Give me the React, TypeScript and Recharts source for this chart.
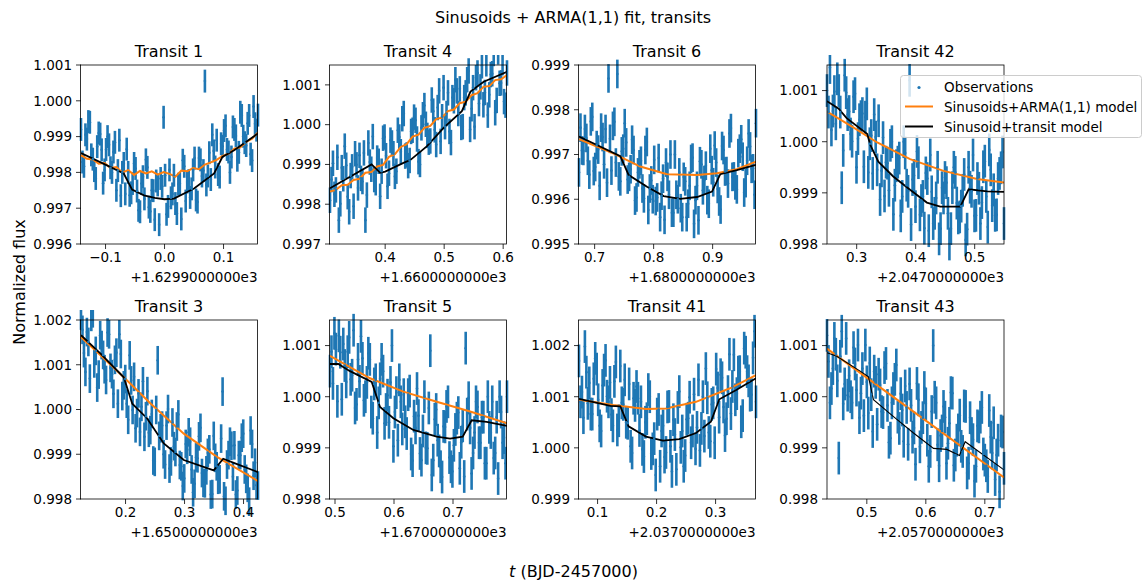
import React from 'react';
import { ComposedChart, Scatter, Line, XAxis, YAxis, ErrorBar } from 'recharts';

// time since first sample of each transit window (days); two interleaved cadence grids
const PHASE = [0, 0.005, 0.01, 0.015, 0.02, 0.025, 0.03, 0.035, 0.04, 0.045,
  0.05, 0.055, 0.06, 0.065, 0.07, 0.075, 0.08, 0.085, 0.09, 0.095,
  0.1, 0.105, 0.11, 0.115, 0.12, 0.125, 0.13, 0.135, 0.14, 0.145,
  0.15, 0.155, 0.16, 0.165, 0.17, 0.175, 0.18, 0.185, 0.19, 0.195,
  0.2, 0.205, 0.21, 0.215, 0.22, 0.225, 0.23, 0.235, 0.24, 0.245,
  0.25, 0.255, 0.26, 0.265, 0.27, 0.275, 0.28, 0.285, 0.29, 0.295, 0.3];
const PHASE_B = [0.0025, 0.0075, 0.0125, 0.0175, 0.0225, 0.0275, 0.0325, 0.0375, 0.0425, 0.0475,
  0.0525, 0.0575, 0.0625, 0.0675, 0.0725, 0.0775, 0.0825, 0.0875, 0.0925, 0.0975,
  0.1025, 0.1075, 0.1125, 0.1175, 0.1225, 0.1275, 0.1325, 0.1375, 0.1425, 0.1475,
  0.1525, 0.1575, 0.1625, 0.1675, 0.1725, 0.1775, 0.1825, 0.1875, 0.1925, 0.1975,
  0.2025, 0.2075, 0.2125, 0.2175, 0.2225, 0.2275, 0.2325, 0.2375, 0.2425, 0.2475,
  0.2525, 0.2575, 0.2625, 0.2675, 0.2725, 0.2775, 0.2825, 0.2875, 0.2925, 0.2975];
const OBS_ERR = 0.00032;

const obsT1 = [0.99920, 0.99817, 0.99893, 0.99940, 0.99837, 0.99783, 0.99910, 0.99863, 0.99807, 0.99900,
  0.99813, 0.99857, 0.99750, 0.99890, 0.99800, 0.99740, 0.99800, 0.99743, 0.99825, 0.99748,
  0.99690, 0.99788, 0.99835, 0.99703, 0.99750, 0.99668, 0.99765, 0.99783, 0.99954, 0.99683,
  0.99807, 0.99740, 0.99713, 0.99767, 0.99670, 0.99817, 0.99773, 0.99730, 0.99807, 0.99723,
  0.99840, 0.99790, 1.00055, 0.99790, 0.99780, 0.99860, 0.99890, 0.99787, 0.99873, 0.99930,
  0.99857, 0.99843, 0.99920, 0.99834, 0.99968, 0.99901, 0.99875, 0.99959, 0.99833, 0.99936, 0.99960];
const obsT1b = [0.99829, 0.99905, 0.99942, 0.99849, 0.99805, 0.99872, 0.99907, 0.99770, 0.99864, 0.99877,
  0.99800, 0.99884, 0.99805, 0.99735, 0.99825, 0.99865, 0.99736, 0.99769, 0.99811, 0.99694,
  0.99769, 0.99726, 0.99814, 0.99691, 0.99749, 0.99776, 0.99654, 0.99761, 0.99792, 0.99705,
  0.99729, 0.99792, 0.99685, 0.99769, 0.99834, 0.99720, 0.99777, 0.99754, 0.99840, 0.99717,
  0.99835, 0.99805, 0.99765, 0.99855, 0.99905, 0.99815, 0.99794, 0.99880, 0.99917, 0.99864,
  0.99800, 0.99927, 0.99902, 0.99856, 0.99959, 0.99883, 0.99937, 0.99851, 0.99984, 0.99918];
const obsT4 = [0.99810, 0.99903, 0.99836, 0.99760, 0.99892, 0.99946, 0.99819, 0.99872, 0.99795, 0.99899,
  0.99923, 0.99857, 0.99760, 0.99954, 0.99888, 0.99862, 0.99916, 0.99820, 0.99966, 0.99922,
  0.99878, 0.99954, 0.99870, 0.99986, 0.99932, 1.00028, 0.99924, 0.99910, 0.99986, 1.00011,
  0.99907, 0.99992, 1.00048, 0.99973, 0.99959, 1.00034, 0.99950, 1.00085, 1.00020, 0.99995,
  1.00080, 0.99955, 1.00060, 1.00085, 1.00090, 0.99995, 1.00080, 1.00135, 1.00040, 0.99995,
  1.00130, 1.00095, 1.00050, 1.00153, 1.00075, 1.00128, 1.00030, 1.00183, 1.00105, 1.00058, 1.00130];
const obsT4b = [0.99862, 0.99825, 0.99918, 0.99801, 0.99864, 0.99898, 0.99781, 0.99894, 0.99927, 0.99841,
  0.99865, 0.99929, 0.99823, 0.99906, 0.99970, 0.99854, 0.99908, 0.99883, 0.99969, 0.99845,
  0.99961, 0.99927, 0.99883, 0.99969, 1.00015, 0.99921, 0.99897, 0.99983, 1.00019, 0.99964,
  0.99900, 1.00025, 1.00001, 0.99956, 1.00062, 0.99987, 1.00043, 0.99958, 1.00093, 1.00028,
  0.99983, 1.00068, 1.00113, 1.00028, 0.99993, 1.00068, 1.00113, 0.99988, 1.00093, 1.00118,
  1.00053, 1.00148, 1.00081, 1.00024, 1.00126, 1.00179, 1.00061, 1.00104, 1.00156, 1.00049];
const obsT6 = [0.99660, 0.99709, 0.99757, 0.99686, 0.99774, 0.99663, 0.99721, 0.99630, 0.99739, 0.99757,
  0.99870, 0.99664, 0.99773, 0.99880, 0.99640, 0.99713, 0.99727, 0.99650, 0.99733, 0.99597,
  0.99660, 0.99686, 0.99602, 0.99728, 0.99624, 0.99600, 0.99596, 0.99692, 0.99608, 0.99554,
  0.99650, 0.99700, 0.99570, 0.99610, 0.99660, 0.99560, 0.99640, 0.99590, 0.99690, 0.99545,
  0.99630, 0.99685, 0.99620, 0.99675, 0.99590, 0.99665, 0.99720, 0.99623, 0.99577, 0.99710,
  0.99663, 0.99747, 0.99650, 0.99631, 0.99703, 0.99734, 0.99615, 0.99686, 0.99718, 0.99669, 0.99770];
const obsT6b = [0.99760, 0.99708, 0.99737, 0.99655, 0.99784, 0.99672, 0.99711, 0.99760, 0.99678, 0.99637,
  0.99735, 0.99764, 0.99682, 0.99651, 0.99707, 0.99770, 0.99644, 0.99667, 0.99710, 0.99604,
  0.99678, 0.99624, 0.99710, 0.99576, 0.99642, 0.99688, 0.99604, 0.99560, 0.99646, 0.99682,
  0.99610, 0.99570, 0.99700, 0.99600, 0.99580, 0.99650, 0.99560, 0.99630, 0.99693, 0.99598,
  0.99553, 0.99678, 0.99643, 0.99598, 0.99713, 0.99638, 0.99682, 0.99595, 0.99719, 0.99662,
  0.99635, 0.99759, 0.99651, 0.99622, 0.99713, 0.99695, 0.99636, 0.99747, 0.99668, 0.99610];
const obsT42 = [1.00100, 1.00145, 1.00060, 1.00035, 1.00100, 0.99910, 1.00130, 1.00053, 1.00015, 1.00088,
  0.99950, 1.00043, 1.00055, 1.00048, 0.99940, 1.00012, 1.00053, 0.99945, 0.99887, 1.00008,
  0.99960, 0.99905, 1.00000, 0.99915, 0.99960, 0.99855, 1.00000, 0.99915, 1.00120, 0.99926,
  0.99873, 0.99959, 0.99885, 0.99831, 0.99928, 0.99974, 0.99840, 0.99890, 0.99810, 0.99910,
  0.99930, 0.99860, 0.99830, 0.99950, 0.99880, 0.99853, 0.99905, 0.99808, 0.99950, 0.99903,
  0.99855, 0.99928, 0.99840, 0.99951, 0.99893, 0.99984, 0.99875, 0.99856, 0.99928, 0.99949, 0.99840];
const obsT42b = [1.00058, 1.00023, 1.00098, 1.00123, 1.00058, 0.99983, 1.00096, 1.00059, 1.00001, 1.00094,
  1.00006, 1.00049, 0.99951, 1.00074, 0.99996, 0.99938, 1.00009, 1.00041, 0.99943, 0.99894,
  0.99958, 0.99993, 0.99858, 0.99953, 0.99968, 0.99893, 0.99978, 0.99903, 0.99838, 0.99934,
  0.99981, 0.99857, 0.99893, 0.99939, 0.99826, 0.99902, 0.99860, 0.99950, 0.99830, 0.99890,
  0.99920, 0.99800, 0.99910, 0.99940, 0.99851, 0.99874, 0.99936, 0.99829, 0.99911, 0.99974,
  0.99856, 0.99909, 0.99881, 0.99962, 0.99833, 0.99945, 0.99906, 0.99857, 0.99938, 0.99980];
const obsT3 = [1.00210, 1.00126, 1.00173, 1.00069, 1.00215, 1.00131, 1.00078, 1.00144, 1.00090, 1.00172,
  1.00093, 1.00035, 1.00127, 1.00168, 1.00030, 1.00068, 0.99977, 1.00065, 1.00073, 0.99992,
  0.99950, 1.00063, 0.99985, 0.99948, 0.99990, 0.99883, 1.00110, 0.99958, 0.99900, 0.99964,
  0.99868, 0.99971, 0.99905, 0.99989, 0.99873, 0.99846, 0.99910, 0.99928, 0.99815, 0.99893,
  0.99940, 0.99858, 0.99835, 0.99903, 0.99810, 0.99941, 0.99873, 0.99844, 1.00040, 0.99796,
  0.99898, 0.99919, 0.99920, 0.99819, 0.99898, 0.99946, 0.99845, 0.99794, 0.99923, 0.99881, 0.99830];
const obsT3b = [1.00178, 1.00084, 1.00151, 1.00207, 1.00103, 1.00049, 1.00166, 1.00122, 1.00066, 1.00168,
  1.00079, 1.00111, 1.00013, 1.00124, 1.00054, 1.00013, 1.00121, 0.99999, 0.99958, 1.00036,
  1.00006, 0.99939, 1.00041, 0.99954, 0.99886, 0.99999, 0.99941, 0.99964, 0.99877, 1.00001,
  0.99884, 0.99918, 0.99962, 0.99876, 0.99829, 0.99923, 0.99949, 0.99866, 0.99834, 0.99891,
  0.99959, 0.99836, 0.99864, 0.99911, 0.99811, 0.99892, 0.99843, 0.99935, 0.99806, 0.99877,
  0.99928, 0.99850, 0.99810, 0.99898, 0.99937, 0.99866, 0.99825, 0.99953, 0.99852, 0.99831];
const obsT5 = [1.00050, 1.00026, 1.00093, 1.00119, 0.99995, 1.00061, 1.00088, 1.00034, 1.00130, 0.99985,
  1.00030, 1.00075, 1.00000, 1.00085, 0.99970, 1.00025, 0.99930, 1.00035, 1.00050, 0.99975,
  0.99950, 1.00100, 0.99970, 0.99915, 0.99990, 1.00004, 0.99928, 1.00011, 0.99875, 0.99939,
  0.99963, 0.99876, 1.00000, 0.99899, 1.00090, 0.99876, 0.99975, 0.99894, 0.99843, 0.99941,
  0.99990, 0.99863, 0.99905, 0.99958, 0.99860, 0.99943, 1.00095, 0.99998, 0.99850, 0.99930,
  0.99980, 0.99910, 0.99960, 0.99870, 0.99940, 0.99990, 0.99890, 0.99840, 0.99970, 0.99920, 1.00000];
const obsT5b = [1.00088, 1.00124, 0.99991, 1.00087, 1.00103, 1.00029, 1.00116, 1.00042, 0.99978, 1.00073,
  1.00118, 0.99993, 1.00028, 1.00073, 0.99958, 1.00033, 0.99988, 1.00073, 0.99948, 1.00003,
  1.00028, 0.99903, 1.00008, 1.00033, 0.99937, 0.99951, 1.00004, 0.99888, 0.99962, 1.00016,
  0.99889, 0.99933, 0.99900, 0.99978, 0.99847, 0.99956, 0.99915, 0.99863, 0.99942, 0.99981,
  0.99881, 0.99854, 0.99936, 0.99969, 0.99911, 0.99844, 0.99966, 0.99939, 0.99890, 0.99990,
  0.99910, 0.99960, 0.99870, 1.00000, 0.99930, 0.99880, 0.99960, 1.00000, 0.99910, 0.99870];
const obsT41 = [1.00170, 1.00109, 1.00198, 1.00087, 1.00066, 1.00135, 1.00154, 1.00043, 1.00122, 1.00171,
  1.00090, 1.00065, 1.00130, 1.00035, 1.00160, 1.00085, 1.00050, 1.00125, 0.99990, 1.00083,
  1.00097, 1.00090, 0.99983, 1.00057, 1.00100, 0.99998, 0.99947, 1.00075, 1.00033, 0.99982,
  1.00080, 1.00003, 1.00055, 0.99958, 1.00110, 1.00033, 0.99985, 1.00058, 1.00010, 1.00105,
  1.00040, 0.99995, 1.00100, 1.00155, 1.00030, 1.00085, 1.00010, 1.00117, 1.00143, 1.00080,
  1.00057, 1.00183, 1.00120, 1.00094, 1.00148, 1.00051, 1.00195, 1.00149, 1.00103, 1.00176, 1.00090];
const obsT41b = [1.00090, 1.00059, 1.00148, 1.00127, 1.00066, 1.00175, 1.00094, 1.00033, 1.00152, 1.00101,
  1.00128, 1.00043, 1.00168, 1.00053, 1.00088, 1.00133, 1.00048, 1.00003, 1.00097, 1.00120,
  1.00034, 0.99997, 1.00050, 1.00114, 0.99989, 1.00018, 1.00066, 0.99964, 1.00043, 0.99991,
  1.00081, 0.99954, 1.00026, 1.00079, 1.00001, 0.99964, 1.00056, 1.00099, 1.00033, 0.99998,
  1.00133, 1.00038, 1.00023, 1.00098, 1.00013, 1.00088, 1.00154, 1.00060, 1.00137, 1.00024,
  1.00110, 1.00067, 1.00182, 1.00106, 1.00149, 1.00063, 1.00187, 1.00131, 1.00104, 1.00228];
const obsT43 = [1.00120, 0.99988, 1.00055, 1.00083, 0.99880, 1.00128, 1.00025, 1.00003, 1.00000, 1.00096,
  1.00013, 0.99959, 1.00055, 1.00101, 0.99968, 1.00004, 1.00050, 0.99946, 1.00023, 0.99969,
  1.00065, 0.99911, 0.99988, 1.00034, 0.99960, 1.00006, 0.99913, 0.99979, 1.00025, 0.99921,
  0.99868, 0.99994, 0.99940, 1.00018, 0.99915, 0.99893, 1.00100, 0.99988, 0.99865, 0.99933,
  0.99960, 0.99909, 1.00008, 0.99866, 0.99915, 0.99964, 0.99893, 0.99981, 0.99870, 0.99928,
  0.99835, 0.99943, 0.99960, 0.99888, 0.99865, 0.99973, 0.99890, 0.99838, 0.99915, 0.99933, 0.99860];
const obsT43b = [1.00069, 1.00016, 1.00114, 1.00031, 1.00079, 0.99986, 1.00114, 1.00041, 0.99988, 1.00064,
  1.00101, 1.00007, 0.99963, 1.00029, 1.00066, 0.99932, 1.00028, 1.00044, 0.99971, 1.00057,
  0.99983, 0.99919, 1.00016, 1.00062, 0.99938, 0.99974, 1.00021, 0.99907, 0.99983, 0.99939,
  1.00026, 0.99902, 0.99959, 0.99986, 0.99864, 0.99971, 0.99999, 0.99906, 0.99924, 0.99981,
  0.99870, 0.99948, 1.00007, 0.99886, 0.99935, 0.99903, 0.99982, 0.99851, 0.99959, 0.99916,
  0.99864, 0.99941, 0.99979, 0.99876, 0.99844, 0.99921, 0.99949, 0.99886, 0.99814, 0.99931];

// [phase, flux] for the two models
const armaT1: [number, number][] = [[0, 0.99848], [0.01, 0.99838], [0.02, 0.99836], [0.03, 0.99824], [0.04, 0.99826],
  [0.05, 0.99812], [0.06, 0.99815], [0.07, 0.998], [0.08, 0.99806], [0.09, 0.99793], [0.1, 0.99804],
  [0.11, 0.99797], [0.12, 0.99803], [0.13, 0.99794], [0.14, 0.99801], [0.15, 0.99796], [0.16, 0.99788],
  [0.17, 0.99805], [0.18, 0.99803], [0.19, 0.99812], [0.2, 0.99809], [0.21, 0.99822], [0.22, 0.99828],
  [0.23, 0.99835], [0.24, 0.99846], [0.25, 0.99852], [0.26, 0.99866], [0.27, 0.9987], [0.28, 0.99885],
  [0.29, 0.99894], [0.3, 0.99912]];
const transitT1: [number, number][] = [[0, 0.99854], [0.036, 0.99826], [0.0724, 0.99797], [0.0866, 0.99752],
  [0.1066, 0.99736], [0.125, 0.99729], [0.1416, 0.99725], [0.1576, 0.99727], [0.1916, 0.99755],
  [0.2256, 0.99797], [0.2396, 0.99843], [0.2596, 0.99862], [0.3, 0.99909]];
const armaT4: [number, number][] = [[0, 0.99832], [0.01, 0.99836], [0.02, 0.99848], [0.03, 0.99849], [0.04, 0.99861],
  [0.05, 0.99864], [0.06, 0.99879], [0.07, 0.99881], [0.08, 0.99895], [0.09, 0.99899], [0.1, 0.99919],
  [0.11, 0.99926], [0.12, 0.99944], [0.13, 0.99951], [0.14, 0.9997], [0.15, 0.99975], [0.16, 0.99992],
  [0.17, 0.99997], [0.18, 1.00014], [0.19, 1.00018], [0.2, 1.00034], [0.21, 1.00038], [0.22, 1.00054],
  [0.23, 1.00058], [0.24, 1.00074], [0.25, 1.00079], [0.26, 1.00095], [0.27, 1.00097], [0.28, 1.00112],
  [0.29, 1.00114], [0.3, 1.00125]];
const transitT4: [number, number][] = [[0, 0.9984], [0.0705, 0.999], [0.085, 0.99879], [0.0935, 0.99882],
  [0.1245, 0.99904], [0.136, 0.99911], [0.1645, 0.99946], [0.1925, 0.99992], [0.2235, 1.00034],
  [0.2381, 1.00083], [0.2605, 1.00108], [0.3, 1.00133]];
const armaT6: [number, number][] = [[0, 0.99734], [0.0589, 0.99702], [0.1039, 0.99673], [0.1491, 0.99656],
  [0.2001, 0.99654], [0.2339, 0.99658], [0.2675, 0.99667], [0.3, 0.99684]];
const transitT6: [number, number][] = [[0, 0.9974], [0.0701, 0.99696], [0.0842, 0.99654], [0.1153, 0.99628],
  [0.1435, 0.99607], [0.1715, 0.99601], [0.2001, 0.99605], [0.2255, 0.99617], [0.2395, 0.99656],
  [0.2675, 0.99665], [0.3, 0.99677]];
const armaT42: [number, number][] = [[0, 1.00059], [0.0446, 1.00028], [0.0843, 0.99999], [0.1408, 0.99966],
  [0.1975, 0.99943], [0.2543, 0.99927], [0.3, 0.9992]];
const transitT42: [number, number][] = [[0, 1.00079], [0.0193, 1.00065], [0.0333, 1.00046], [0.0683, 1.00015],
  [0.0729, 0.99995], [0.087, 0.99961], [0.1123, 0.99932], [0.1408, 0.99906], [0.1693, 0.99881],
  [0.1919, 0.99873], [0.2259, 0.99873], [0.2401, 0.99907], [0.2713, 0.99903], [0.3, 0.99902]];
const armaT3: [number, number][] = [[0, 1.00162], [0.0331, 1.00121], [0.0725, 1.00072], [0.1183, 1.00013],
  [0.1742, 0.99946], [0.2305, 0.99894], [0.3, 0.9984]];
const transitT3: [number, number][] = [[0, 1.00166], [0.0331, 1.00125], [0.0725, 1.00072], [0.0869, 1.00013],
  [0.1122, 0.9998], [0.1403, 0.99924], [0.1742, 0.99887], [0.225, 0.99864], [0.241, 0.9989],
  [0.2645, 0.99878], [0.3, 0.9986]];
const armaT5: [number, number][] = [[0, 1.0008], [0.0678, 1.00036], [0.1243, 1.0001], [0.1809, 0.9999],
  [0.2375, 0.99971], [0.3, 0.99948]];
const transitT5: [number, number][] = [[0, 1.00064], [0.0141, 1.00064], [0.0339, 1.0005], [0.0707, 1.00029],
  [0.0848, 0.9998], [0.1074, 0.99958], [0.1413, 0.99935], [0.1809, 0.99922], [0.2035, 0.99918],
  [0.2249, 0.99922], [0.2401, 0.99954], [0.2655, 0.99951], [0.3, 0.99943]];
const armaT41: [number, number][] = [[0, 1.00094], [0.058, 1.00084], [0.1135, 1.00076], [0.1473, 1.00077],
  [0.1983, 1.0009], [0.2549, 1.00116], [0.3, 1.00142]];
const transitT41: [number, number][] = [[0, 1.00096], [0.0532, 1.00082], [0.0701, 1.00081], [0.084, 1.00042],
  [0.1135, 1.00022], [0.1422, 1.00014], [0.17, 1.00017], [0.1983, 1.00029], [0.2235, 1.00051],
  [0.2378, 1.00095], [0.2665, 1.00113], [0.3, 1.00136]];
const armaT43: [number, number][] = [[0, 1.00094], [0.15, 0.99968], [0.3, 0.99842]];
const transitT43: [number, number][] = [[0, 1.00086], [0.0165, 1.00079], [0.0562, 1.0005], [0.0703, 1.00039],
  [0.0788, 0.99994], [0.1127, 0.99961], [0.1466, 0.99929], [0.1805, 0.99899], [0.2031, 0.99897],
  [0.2245, 0.99885], [0.2342, 0.99912], [0.3, 0.99857]];

const BLUE = '#1f77b4';
const ORANGE = '#ff7f0e';
const FONT = 'DejaVu Sans';
const PW = 177;
const PH = 179;

const panels = [
  { title: 'Transit 1', obs: obsT1, obsB: obsT1b, arma: armaT1, transit: transitT1, t0: -0.1416, offset: '+1.6299000000e3',
    xTicks: [-0.1, 0, 0.1], yTicks: [0.996, 0.997, 0.998, 0.999, 1.0, 1.001], yDomain: [0.996, 1.001], left: 80.5, top: 65 },
  { title: 'Transit 4', obs: obsT4, obsB: obsT4b, arma: armaT4, transit: transitT4, t0: 0.3065, offset: '+1.6600000000e3',
    xTicks: [0.4, 0.5, 0.6], yTicks: [0.997, 0.998, 0.999, 1.0, 1.001], yDomain: [0.997, 1.0015], left: 329.5, top: 65 },
  { title: 'Transit 6', obs: obsT6, obsB: obsT6b, arma: armaT6, transit: transitT6, t0: 0.6735, offset: '+1.6800000000e3',
    xTicks: [0.7, 0.8, 0.9], yTicks: [0.995, 0.996, 0.997, 0.998, 0.999], yDomain: [0.995, 0.999], left: 578.5, top: 65 },
  { title: 'Transit 42', obs: obsT42, obsB: obsT42b, arma: armaT42, transit: transitT42, t0: 0.2497, offset: '+2.0470000000e3',
    xTicks: [0.3, 0.4, 0.5], yTicks: [0.998, 0.999, 1.0, 1.001], yDomain: [0.998, 1.0015], left: 827, top: 65 },
  { title: 'Transit 3', obs: obsT3, obsB: obsT3b, arma: armaT3, transit: transitT3, t0: 0.1245, offset: '+1.6500000000e3',
    xTicks: [0.2, 0.3, 0.4], yTicks: [0.998, 0.999, 1.0, 1.001, 1.002], yDomain: [0.998, 1.002], left: 80.5, top: 320 },
  { title: 'Transit 5', obs: obsT5, obsB: obsT5b, arma: armaT5, transit: transitT5, t0: 0.4915, offset: '+1.6700000000e3',
    xTicks: [0.5, 0.6, 0.7], yTicks: [0.998, 0.999, 1.0, 1.001], yDomain: [0.998, 1.0015], left: 329.5, top: 320 },
  { title: 'Transit 41', obs: obsT41, obsB: obsT41b, arma: armaT41, transit: transitT41, t0: 0.0685, offset: '+2.0370000000e3',
    xTicks: [0.1, 0.2, 0.3], yTicks: [0.999, 1.0, 1.001, 1.002], yDomain: [0.999, 1.0025], left: 578.5, top: 320 },
  { title: 'Transit 43', obs: obsT43, obsB: obsT43b, arma: armaT43, transit: transitT43, t0: 0.4325, offset: '+2.0570000000e3',
    xTicks: [0.5, 0.6, 0.7], yTicks: [0.998, 0.999, 1.0, 1.001], yDomain: [0.998, 1.0015], left: 827, top: 320, thin: true },
];

const tickStyle = { fontSize: 13.5, fill: '#000', fontFamily: FONT };

function fmtX(v: number) {
  const r = Math.round(v * 10) / 10;
  return r.toFixed(1).replace('-', '\u2212');
}

const dot = (props: any) => <circle cx={props.cx} cy={props.cy} r={1.3} fill={BLUE} />;

function TransitPanel({ p }: { p: typeof panels[number] }) {
  const obsRows = PHASE.map((x, i) => ({ x, y: p.obs[i], err: OBS_ERR }))
    .concat(PHASE_B.map((x, i) => ({ x, y: p.obsB[i], err: OBS_ERR })));
  const armaRows = p.arma.map(([x, y]) => ({ x, y }));
  const transitRows = p.transit.map(([x, y]) => ({ x, y }));
  const xTickPos = p.xTicks.map((t) => t - p.t0);
  return (
    <div style={{ position: 'absolute', left: p.left - 60, top: p.top - 10 }}>
      <ComposedChart width={PW + 70} height={PH + 50} margin={{ top: 10, right: 10, bottom: 0, left: 0 }}>
        <XAxis type="number" dataKey="x" domain={[0, 0.3]} ticks={xTickPos} interval={0} allowDataOverflow
          height={40} axisLine={false} tickLine={{ stroke: '#000', strokeWidth: 0.8 }} tickSize={5} tickMargin={3}
          tick={tickStyle} tickFormatter={(v: number) => fmtX(v + p.t0)} />
        <YAxis type="number" dataKey="y" domain={p.yDomain} ticks={p.yTicks} interval={0} allowDataOverflow
          width={60} axisLine={false} tickLine={{ stroke: '#000', strokeWidth: 0.8 }} tickSize={5} tickMargin={4}
          tick={tickStyle} tickFormatter={(v: number) => v.toFixed(3)} />
        <Scatter data={obsRows} dataKey="y" fill={BLUE} shape={dot} isAnimationActive={false}>
          <ErrorBar dataKey="err" direction="y" width={0} stroke={BLUE} strokeWidth={2.6}
            isAnimationActive={false} />
        </Scatter>
        <Line data={armaRows} dataKey="y" type="linear" stroke={ORANGE} strokeWidth={2} dot={false}
          isAnimationActive={false} />
        <Line data={transitRows} dataKey="y" type="linear" stroke="#000" strokeWidth={p.thin ? 1.1 : 1.8} dot={false}
          isAnimationActive={false} />
      </ComposedChart>
    </div>
  );
}

export default function App() {
  return (
    <div style={{ position: 'absolute', left: 0, top: 0, width: 1143, height: 585, background: '#fff', fontFamily: FONT }}>
      {panels.map((p) => <TransitPanel key={p.title} p={p} />)}
      <svg width={1143} height={585} style={{ position: 'absolute', left: 0, top: 0, pointerEvents: 'none' }}
        fontFamily={FONT}>
        <text x={573} y={23.4} fontSize={16} textAnchor="middle">Sinusoids + ARMA(1,1) fit, transits</text>
        {panels.map((p) => (
          <g key={p.title}>
            <rect x={p.left} y={p.top} width={PW} height={PH} fill="none" stroke="#000" strokeWidth={0.8} />
            <text x={p.left + PW / 2} y={p.top - 8} fontSize={16} textAnchor="middle">{p.title}</text>
            <text x={p.left + PW} y={p.top + PH + 37.5} fontSize={13.5} textAnchor="end">{p.offset}</text>
          </g>
        ))}
        <text transform="translate(25,282) rotate(-90)" fontSize={16} textAnchor="middle">Normalized flux</text>
        <text x={573.5} y={576.5} fontSize={16} textAnchor="middle">
          <tspan fontStyle="italic">t</tspan> (BJD-2457000)
        </text>
        <rect x={900.5} y={75.5} width={241} height={62} rx={3} fill="#fff" fillOpacity={0.8} stroke="#cccccc" strokeWidth={1} />
        <circle cx={919} cy={87.5} r={1.6} fill={BLUE} />
        <text x={944} y={91.5} fontSize={13.5}>Observations</text>
        <line x1={905} x2={933} y1={106.5} y2={106.5} stroke={ORANGE} strokeWidth={2} />
        <text x={944} y={111.5} fontSize={13.5}>Sinusoids+ARMA(1,1) model</text>
        <line x1={905} x2={933} y1={126.5} y2={126.5} stroke="#000" strokeWidth={2} />
        <text x={944} y={131.5} fontSize={13.5}>Sinusoid+transit model</text>
      </svg>
    </div>
  );
}
